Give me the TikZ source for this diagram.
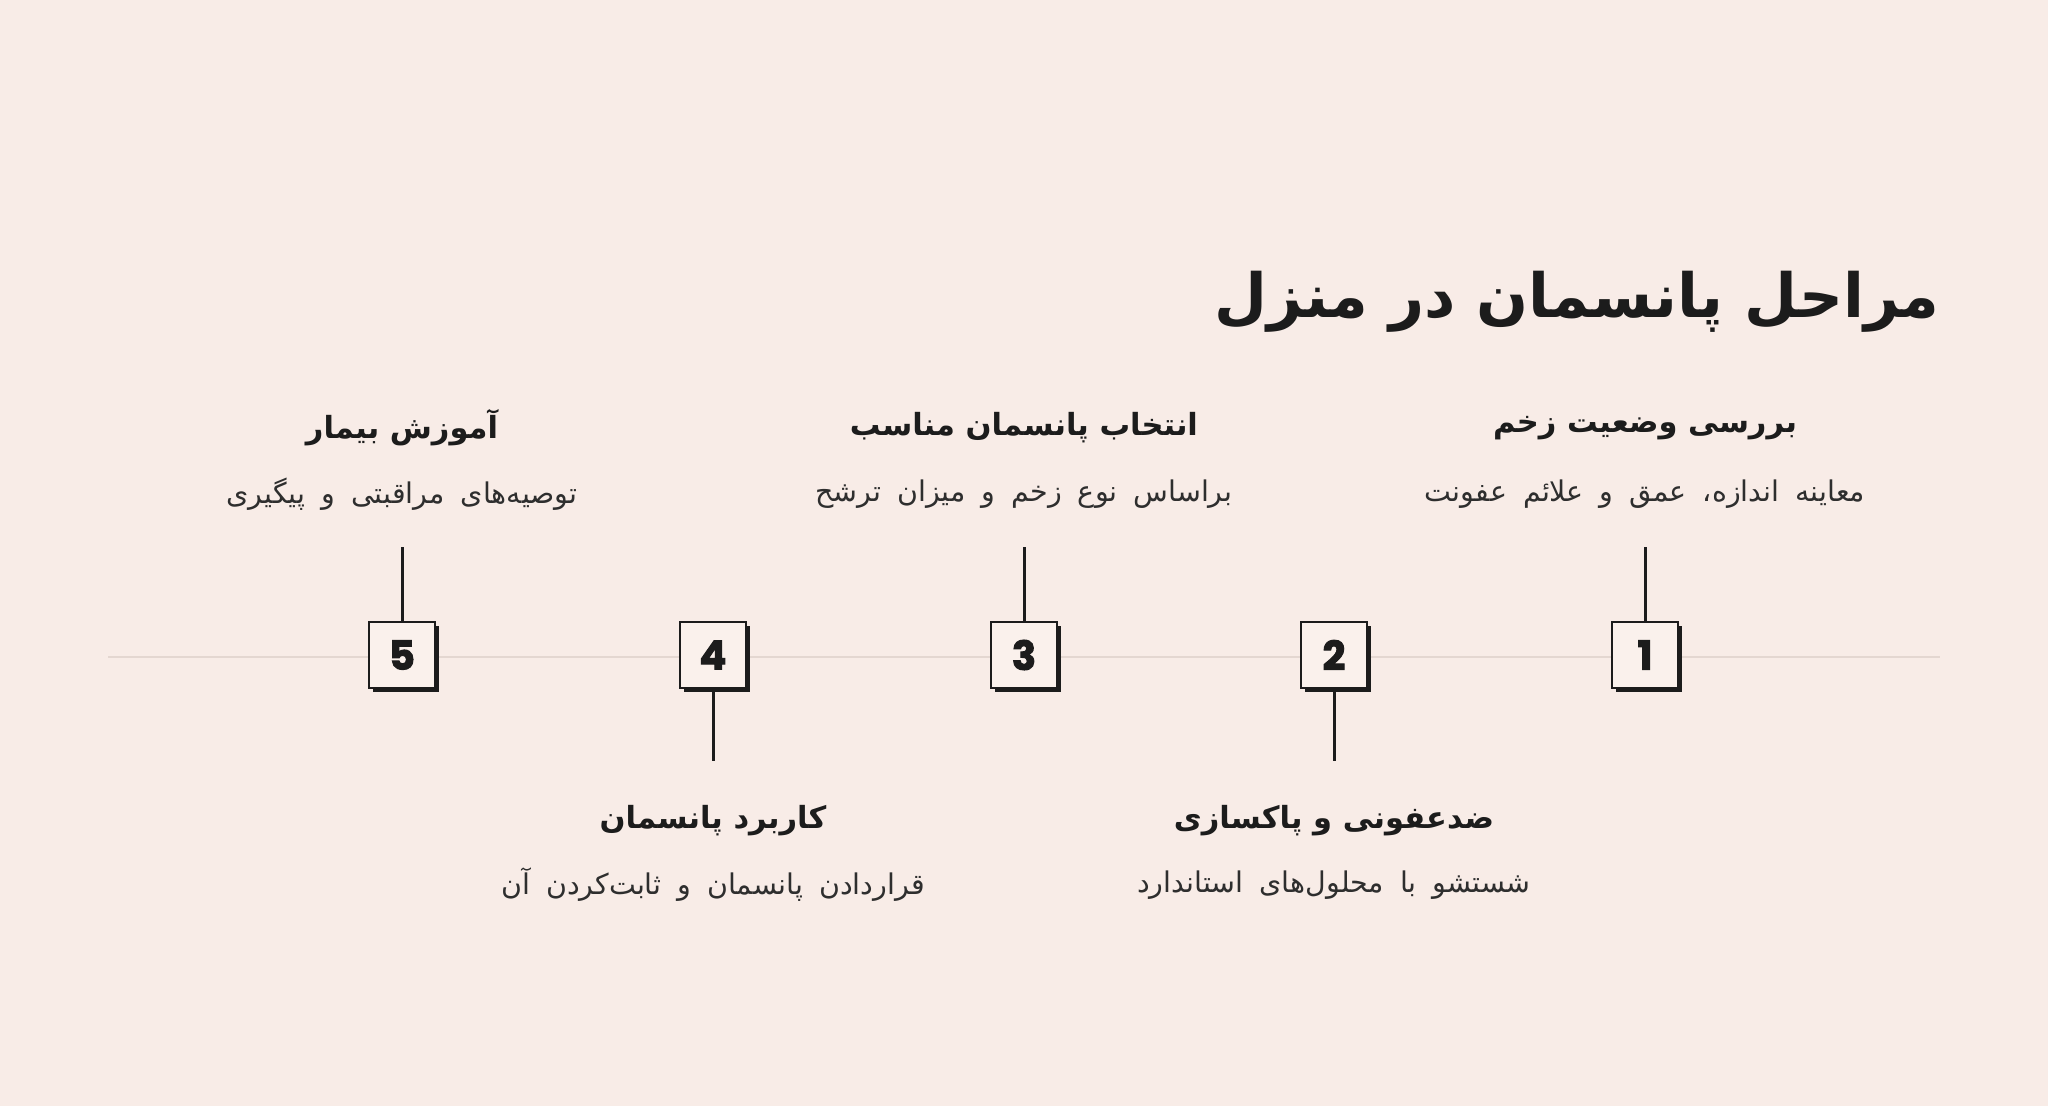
\documentclass[tikz,border=0pt]{standalone}
\usepackage{fontspec}
\usetikzlibrary{shadows}
\TeXXeTstate=1
\newfontfamily\arabicfont[Script=Arabic]{DejaVu Sans}
\newfontfamily\numfont[BoldFeatures={FakeBold=2.5}]{Poppins}
\newcommand\descwords{\spaceskip 16pt plus 2pt\relax}
\definecolor{bgpaper}{HTML}{F8ECE7}
\definecolor{boxpaper}{HTML}{FAF1EC}
\definecolor{inkdark}{HTML}{1C1C1C}
\definecolor{inksoft}{HTML}{2E2E2E}
\definecolor{railgray}{HTML}{E4D7D1}
\tikzset{
    numbox/.style={draw=inkdark, line width=2.8pt, fill=boxpaper, minimum size=66pt, inner sep=0pt,
        drop shadow={shadow xshift=4pt, shadow yshift=-4pt, opacity=1, fill=inkdark},
        font=\numfont\bfseries\fontsize{40}{40}\selectfont, text=inkdark},
    steptitle/.style={font=\arabicfont\bfseries\fontsize{30.5}{36}\selectfont, text=inkdark},
    stepdesc/.style={font=\arabicfont\fontsize{28.5}{34}\selectfont\descwords, text=inksoft},
    stem/.style={draw=inkdark, line width=3pt}
}
\begin{document}
\begin{tikzpicture}[x=1pt, y=-1pt]
        \useasboundingbox[fill=bgpaper] (0, 0) rectangle (2048, 1106);
        
        % ---title
        \node[anchor=east, inner sep=0pt, text=inkdark, font=\arabicfont\bfseries\fontsize{61}{68}\selectfont] (heading) at (1940, 302) {\beginR مراحل پانسمان در منزل\endR};
        
        % ---rail
        \coordinate (railL) at (108, 657);
        \coordinate (railR) at (1940, 657);
        \draw[railgray, line width=2.8pt] (railL) -- (railR);
        
        % ---stems
        \coordinate (up1) at (1645, 547);
        \coordinate (dn2) at (1334, 761);
        \coordinate (up3) at (1024, 547);
        \coordinate (dn4) at (713, 761);
        \coordinate (up5) at (402, 547);
        
        % ---boxes
        \node[numbox] (s1) at (1645, 655) {1};
        \node[numbox] (s2) at (1334, 655) {2};
        \node[numbox] (s3) at (1024, 655) {3};
        \node[numbox] (s4) at (713, 655) {4};
        \node[numbox] (s5) at (402, 655) {5};
        
        \draw[stem] (s1.north) -- (up1);
        \draw[stem] (s2.south) -- (dn2);
        \draw[stem] (s3.north) -- (up3);
        \draw[stem] (s4.south) -- (dn4);
        \draw[stem] (s5.north) -- (up5);
        
        % ---labels above
        \node[steptitle] (t1) at (1645, 428) {\beginR بررسی وضعیت زخم\endR};
        \node[stepdesc] (d1) at (1645, 494) {\beginR معاینه اندازه، عمق و علائم عفونت\endR};
        \node[steptitle] (t3) at (1024, 428) {\beginR انتخاب پانسمان مناسب\endR};
        \node[stepdesc] (d3) at (1024, 494) {\beginR براساس نوع زخم و میزان ترشح\endR};
        \node[steptitle] (t5) at (402, 428) {\beginR آموزش بیمار\endR};
        \node[stepdesc] (d5) at (402, 494) {\beginR توصیه‌های مراقبتی و پیگیری\endR};
        
        % ---labels below
        \node[steptitle] (t2) at (1334, 821) {\beginR ضدعفونی و پاکسازی\endR};
        \node[stepdesc] (d2) at (1334, 885) {\beginR شستشو با محلول‌های استاندارد\endR};
        \node[steptitle] (t4) at (713, 821) {\beginR کاربرد پانسمان\endR};
        \node[stepdesc] (d4) at (713, 885) {\beginR قراردادن پانسمان و ثابت‌کردن آن\endR};
        
    \end{tikzpicture}
\end{document}
